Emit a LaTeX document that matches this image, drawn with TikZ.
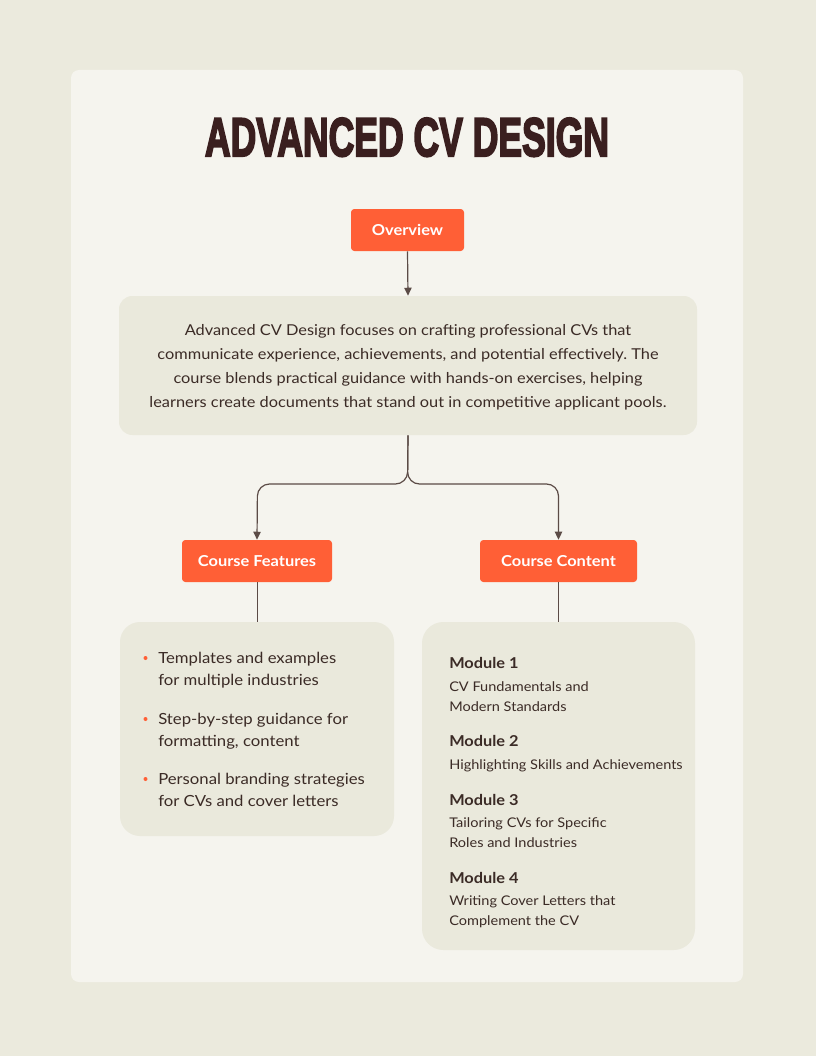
\documentclass[tikz,border=0pt]{standalone}
\usepackage{fontspec}
\usepackage{graphicx}
\setmainfont{Lato}[FakeStretch=1.09]
\newfontfamily\titlefont[BoldFeatures={FakeBold=4}]{Liberation Sans}
\usetikzlibrary{arrows.meta}
\frenchspacing
\definecolor{outerbg}{HTML}{EBEADD}
\definecolor{cardbg}{HTML}{F5F4EE}
\definecolor{panelbg}{HTML}{EAE9DC}
\definecolor{accent}{HTML}{FF5F36}
\definecolor{titlecol}{HTML}{3A1F1F}
\definecolor{textcol}{HTML}{3B2B26}
\definecolor{linecol}{HTML}{5B4B46}
\tikzset{
  tag/.style={fill=accent, rounded corners=2.5pt, minimum height=31.5pt, inner sep=0pt,
    text=white, font=\bfseries\fontsize{11.3}{13}\selectfont},
  panel/.style={fill=panelbg, inner sep=0pt},
  bodytext/.style={text=textcol, inner sep=0pt, font=\fontsize{11.25}{18}\selectfont},
  itemtext/.style={text=textcol, inner sep=0pt, anchor=base west, font=\fontsize{11.5}{13}\selectfont},
  modhead/.style={text=textcol, inner sep=0pt, anchor=base west, font=\bfseries\fontsize{11.25}{13}\selectfont},
  moddesc/.style={text=textcol, inner sep=0pt, anchor=base west, font=\fontsize{10}{12}\selectfont},
  bulletdot/.style={circle, fill=accent, inner sep=0pt, minimum size=3pt},
  conn/.style={draw=linecol, line width=0.9pt},
  arrowconn/.style={conn, -{Triangle[length=6pt,width=5.5pt]}},
}
\begin{document}
\begin{tikzpicture}[x=0.75pt,y=-0.75pt]
\useasboundingbox (0,0) rectangle (816,1056);
\fill[outerbg] (0,0) rectangle (816,1056);
\fill[cardbg, rounded corners=6pt] (71,70) rectangle (743,982);

\node[anchor=base, inner sep=0pt, text=titlecol] (title) at (407,156)
  {\resizebox{303pt}{28.5pt}{\titlefont\bfseries ADVANCED CV DESIGN}};

\node[tag, minimum width=84.75pt] (ov) at (407.5,230) {Overview};

\node[panel, minimum width=433.5pt, minimum height=104.25pt, rounded corners=10pt] (sum) at (408,365.5) {};
\node[bodytext, align=center] (sumtxt) at (408,367)
  {Advanced CV Design focuses on crafting professional CVs that\\
   communicate experience, achievements, and potential effectively. The\\
   course blends practical guidance with hands-on exercises, helping\\
   learners create documents that stand out in competitive applicant pools.};

\node[tag, minimum width=112.5pt] (cf) at (257,561) {Course Features};
\node[tag, minimum width=117.75pt] (cc) at (558.5,561) {Course Content};

\node[panel, minimum width=205.5pt, minimum height=160.5pt, rounded corners=15pt] (lb) at (257,729) {};
\node[panel, minimum width=204.75pt, minimum height=246pt, rounded corners=16pt] (rb) at (558.5,786) {};

\draw[arrowconn] (ov.south) -- (sum.north);
\draw[arrowconn, rounded corners=9pt] (sum.south) -- (407.5,484) -- (257.5,484) -- (cf.north);
\draw[arrowconn, rounded corners=9pt] (sum.south) -- (407.5,484) -- (558.5,484) -- (cc.north);
\draw[conn] ([xshift=0.4pt]cf.south) -- ([xshift=0.4pt]cf.south |- lb.north);
\draw[conn] (cc.south) -- (rb.north);

% left list
\node[bulletdot] (b1) at (145.5,658) {};
\node[itemtext] (i1a) at (158,663) {Templates and examples};
\node[itemtext] (i1b) at (158,685) {for multiple industries};
\node[bulletdot] (b2) at (145.5,719) {};
\node[itemtext] (i2a) at (158,724) {Step-by-step guidance for};
\node[itemtext] (i2b) at (158,746) {formatting, content};
\node[bulletdot] (b3) at (145.5,779) {};
\node[itemtext] (i3a) at (158,784) {Personal branding strategies};
\node[itemtext] (i3b) at (158,806) {for CVs and cover letters};

% right modules
\node[modhead] (m1) at (449,668) {Module 1};
\node[moddesc] (m1a) at (449,691) {CV Fundamentals and};
\node[moddesc] (m1b) at (449,711) {Modern Standards};
\node[modhead] (m2) at (449,746) {Module 2};
\node[moddesc] (m2a) at (449,769) {Highlighting Skills and Achievements};
\node[modhead] (m3) at (449,805) {Module 3};
\node[moddesc] (m3a) at (449,827) {Tailoring CVs for Specific};
\node[moddesc] (m3b) at (449,847) {Roles and Industries};
\node[modhead] (m4) at (449,883) {Module 4};
\node[moddesc] (m4a) at (449,905) {Writing Cover Letters that};
\node[moddesc] (m4b) at (449,925) {Complement the CV};
\end{tikzpicture}
\end{document}
